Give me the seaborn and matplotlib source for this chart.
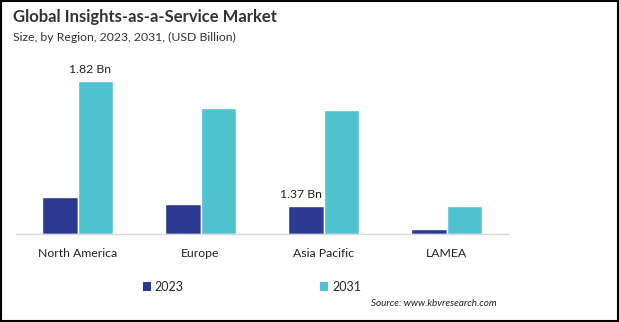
import matplotlib
matplotlib.use("Agg")
import matplotlib.pyplot as plt
import seaborn as sns
import pandas as pd
from matplotlib.patches import Patch, Rectangle

regions = ["North America", "Europe", "Asia Pacific", "LAMEA"]
years = ["2023", "2031"]
values_2023 = [0.44, 0.36, 0.33, 0.06]
values_2031 = [1.82, 1.50, 1.47, 0.33]
label_texts = {("North America", "2031"): "1.82 Bn", ("Asia Pacific", "2023"): "1.37 Bn"}
colors = ["#2B3990", "#4FC3CF"]

df = pd.DataFrame({
    "Region": regions * 2,
    "Year": [years[0]] * len(regions) + [years[1]] * len(regions),
    "Value": values_2023 + values_2031,
})

sns.set_theme(style="white")
plt.rcParams["font.family"] = ["Lato", "DejaVu Sans"]

fig = plt.figure(figsize=(6.19, 3.22), dpi=100)
ax = fig.add_axes([16 / 619, 88 / 322, 492 / 619, 168.5 / 322])

sns.barplot(data=df, x="Region", y="Value", hue="Year", palette=colors,
            width=0.57, gap=0, saturation=1, ax=ax, legend=False, errorbar=None)

ax.set_ylim(0, 2.0)
ax.set_xlim(-0.5, 3.5)
ax.set_xlabel("")
ax.set_ylabel("")
ax.set_yticks([])
for s in ["top", "right", "left"]:
    ax.spines[s].set_visible(False)
ax.spines["bottom"].set_color("#D9D9D9")
ax.spines["bottom"].set_linewidth(1.0)
ax.tick_params(axis="x", length=0, pad=10, labelsize=8.8, labelcolor="#222222")

# data labels
for ci, cont in enumerate(ax.containers):
    for ri, bar in enumerate(cont):
        key = (regions[ri], years[ci])
        if key in label_texts:
            ax.text(bar.get_x() + bar.get_width() / 2 - 0.04, bar.get_height() + 0.07,
                    label_texts[key], ha="center", va="bottom", fontsize=8.8,
                    color="#222222")

fig.text(13 / 619, 1 - 17 / 322, "Global Insights-as-a-Service Market",
         fontsize=12, fontweight="bold", color="#333333", va="center", ha="left")
fig.text(13 / 619, 1 - 37 / 322, "Size, by Region, 2023, 2031, (USD Billion)",
         fontsize=8.8, color="#333333", va="center", ha="left")

handles = [Patch(facecolor=c, edgecolor="none") for c in colors]
fig.legend(handles, years, loc="center left", bbox_to_anchor=(143 / 619, 1 - 287 / 322),
           ncol=2, frameon=False, fontsize=9, handlelength=0.65, handleheight=0.65,
           handletextpad=0.3, columnspacing=10.9, borderaxespad=0, borderpad=0)

fig.text(497 / 619, 1 - 303 / 322, "Source: www.kbvresearch.com", fontsize=7.1,
         style="italic", color="#222222", ha="right", va="center")

fig.patches.append(Rectangle((0.001, 0.002), 0.997, 0.996, transform=fig.transFigure,
                             fill=False, edgecolor="black", linewidth=1.5))

fig.savefig("out.png", dpi=100)
